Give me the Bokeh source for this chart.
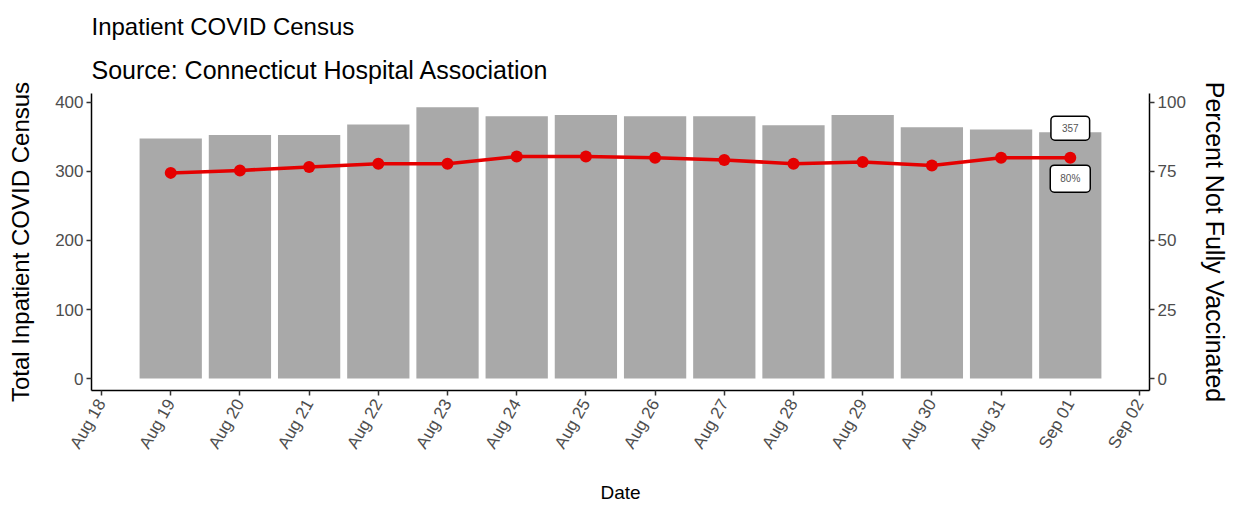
import math
import pandas as pd
from bokeh.plotting import figure
from bokeh.models import (Range1d, LinearAxis, FixedTicker, DatetimeTickFormatter,
                          Title, Label, ColumnDataSource)
from bokeh.embed import file_html
from bokeh.resources import INLINE

# ---- data ----
dates = ["2021-08-19", "2021-08-20", "2021-08-21", "2021-08-22", "2021-08-23",
         "2021-08-24", "2021-08-25", "2021-08-26", "2021-08-27", "2021-08-28",
         "2021-08-29", "2021-08-30", "2021-08-31", "2021-09-01"]
census = [348, 353, 353, 368, 393, 380, 382, 380, 380, 367, 382, 364, 361, 357]
pct_not_vax = [74.5, 75.4, 76.6, 77.8, 77.8, 80.4, 80.4, 80.0, 79.2, 77.8,
               78.4, 77.2, 80.0, 80.0]
tick_dates = ["2021-08-18", "2021-08-19", "2021-08-20", "2021-08-21", "2021-08-22",
              "2021-08-23", "2021-08-24", "2021-08-25", "2021-08-26", "2021-08-27",
              "2021-08-28", "2021-08-29", "2021-08-30", "2021-08-31", "2021-09-01",
              "2021-09-02"]
left_ticks = [0, 100, 200, 300, 400]
right_ticks = [0, 25, 50, 75, 100]

FONT = "Liberation Sans"
DAY = 86400000.0


def ms(d):
    return pd.Timestamp(d).value / 1e6


src = ColumnDataSource(dict(date=[ms(d) for d in dates], census=census, pct=pct_not_vax))
tick_ms = [ms(d) for d in tick_dates]

x_start = tick_ms[0] - 0.145 * DAY
x_end = tick_ms[-1] + 0.145 * DAY
y_start, y_end = -17.39, 413.04

p = figure(frame_width=1058, frame_height=297, x_axis_type="datetime",
           x_range=Range1d(x_start, x_end), y_range=Range1d(y_start, y_end),
           output_backend="svg", toolbar_location=None, title=None,
           min_border_left=91, min_border_right=84, min_border_top=93,
           min_border_bottom=116, outline_line_color=None,
           background_fill_color="white", border_fill_color="white")
p.extra_y_ranges = {"pct": Range1d(y_start / 4, y_end / 4)}
p.xgrid.visible = False
p.ygrid.visible = False

p.vbar(x="date", top="census", width=0.9 * DAY, bottom=0, source=src,
       fill_color="#a9a9a9", line_color=None)
p.line(x="date", y="pct", source=src, y_range_name="pct", line_color="#e50000",
       line_width=3.5)
p.scatter(x="date", y="pct", source=src, y_range_name="pct", size=12,
          fill_color="#e50000", line_color=None)

# value labels
p.add_layout(Label(x=src.data["date"][-1], y=census[-1], text=str(census[-1]),
                   text_align="center", text_baseline="middle", y_offset=4,
                   text_font=FONT, text_font_size="10px", text_color="#555555",
                   background_fill_color="white", border_line_color="black",
                   border_line_width=1.5, border_radius=4,
                   padding=dict(left=11, right=11, top=8, bottom=8)))
p.add_layout(Label(x=src.data["date"][-1], y=pct_not_vax[-1], y_range_name="pct",
                   text="%d%%" % round(pct_not_vax[-1]),
                   text_align="center", text_baseline="middle", y_offset=-21,
                   text_font=FONT, text_font_size="10px", text_color="#555555",
                   background_fill_color="white", border_line_color="black",
                   border_line_width=1.5, border_radius=4,
                   padding=dict(left=10, right=10, top=8, bottom=8)))


def style_axis(ax, label, size):
    ax.axis_label = label
    ax.axis_label_text_font = FONT
    ax.axis_label_text_font_size = size
    ax.axis_label_text_font_style = "normal"
    ax.axis_label_text_color = "black"
    ax.major_label_text_font = FONT
    ax.major_label_text_font_size = "17px"
    ax.major_label_text_color = "#4d4d4d"
    ax.major_label_standoff = 3
    ax.axis_line_color = "black"
    ax.axis_line_width = 1.5
    ax.major_tick_line_color = "#333333"
    ax.major_tick_line_width = 1.5
    ax.major_tick_out = 5
    ax.major_tick_in = 0
    ax.minor_tick_line_color = None


xa = p.xaxis[0]
style_axis(xa, "Date", "19px")
xa.major_label_standoff = 5
xa.axis_label_standoff = 22
xa.ticker = FixedTicker(ticks=tick_ms)
fmt = "%b %d"
xa.formatter = DatetimeTickFormatter(days=fmt, months=fmt, hours=fmt, years=fmt,
                                     minutes=fmt, seconds=fmt, milliseconds=fmt,
                                     microseconds=fmt, hourmin=fmt, minsec=fmt)
xa.major_label_orientation = math.pi / 3

ya = p.yaxis[0]
style_axis(ya, "Total Inpatient COVID Census", "24px")
ya.axis_label_standoff = 18
ya.ticker = FixedTicker(ticks=left_ticks)

ra = LinearAxis(y_range_name="pct")
style_axis(ra, "Percent Not Fully Vaccinated", "25px")
ra.axis_label_standoff = 12
ra.ticker = FixedTicker(ticks=right_ticks)
p.add_layout(ra, "right")

p.add_layout(Title(text="Source: Connecticut Hospital Association", text_font=FONT,
                   text_font_size="25px", text_font_style="normal", standoff=20,
                   text_color="black", align="left"), "above")
p.add_layout(Title(text="Inpatient COVID Census", text_font=FONT,
                   text_font_size="24px", text_font_style="normal", standoff=8,
                   text_color="black", align="left"), "above")

open("out.html", "w").write(file_html(p, INLINE))
